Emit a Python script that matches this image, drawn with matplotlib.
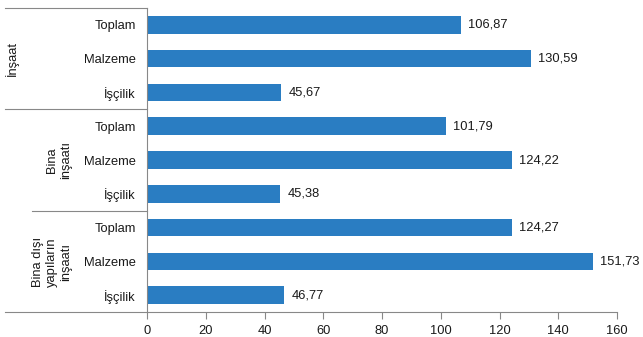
import matplotlib
matplotlib.use("Agg")
import matplotlib.pyplot as plt
from matplotlib.lines import Line2D

plt.rcParams['font.family'] = ['Liberation Sans', 'DejaVu Sans']

categories = ["Toplam", "Malzeme", "İşçilik",
              "Toplam", "Malzeme", "İşçilik",
              "Toplam", "Malzeme", "İşçilik"]
values = [106.87, 130.59, 45.67, 101.79, 124.22, 45.38, 124.27, 151.73, 46.77]
value_labels = ["106,87", "130,59", "45,67", "101,79", "124,22", "45,38",
                "124,27", "151,73", "46,77"]
groups = ["İnşaat", "Bina\ninşaatı", "Bina dışı\nyapıların\ninşaatı"]
xticks = [0, 20, 40, 60, 80, 100, 120, 140, 160]

W, H = 643, 337
fig = plt.figure(figsize=(W / 100, H / 100), dpi=100)
ax_l, ax_r, ax_t, ax_b = 147, 617, 8, 312
ax = fig.add_axes([ax_l / W, 1 - ax_b / H, (ax_r - ax_l) / W, (ax_b - ax_t) / H])

FS = 9.3
bar_color = "#2A7DC2"
ypos = list(range(len(values)))
ax.barh(ypos, values, height=0.52, color=bar_color)
ax.set_ylim(len(values) - 0.5, -0.5)
ax.set_xlim(0, 160)

for y, v, lab in zip(ypos, values, value_labels):
    ax.text(v + 2.5, y, lab, va="center", ha="left", fontsize=FS, color="#1a1a1a")

ax.set_yticks(ypos)
ax.set_yticklabels(categories, fontsize=FS, color="#1a1a1a")
ax.tick_params(axis="y", length=0, pad=8)
ax.set_xticks(xticks)
ax.set_xticklabels([str(t) for t in xticks], fontsize=FS, color="#1a1a1a")
ax.tick_params(axis="x", direction="out", length=5, width=0.8, color="#888888", pad=4)

for s in ["top", "right"]:
    ax.spines[s].set_visible(False)
for s in ["left", "bottom"]:
    ax.spines[s].set_color("#888888")
    ax.spines[s].set_linewidth(0.8)

def fx(px):
    return px / W

def fy(py):
    return 1 - py / H

line_kw = dict(color="#888888", linewidth=0.8, transform=fig.transFigure)
for (x0, yy) in [(5, 8), (5, 109.3), (32, 210.7), (5, 312)]:
    fig.add_artist(Line2D([fx(x0), fx(ax_l)], [fy(yy), fy(yy)], **line_kw))

group_pos = [(12, 58), (59, 160), (52, 262)]
for g, (gx, gy) in zip(groups, group_pos):
    fig.text(fx(gx), fy(gy), g, rotation=90, ha="center", va="center",
             fontsize=FS, color="#1a1a1a", multialignment="center", linespacing=1.2)

fig.savefig("out.png", dpi=100, facecolor="white")
